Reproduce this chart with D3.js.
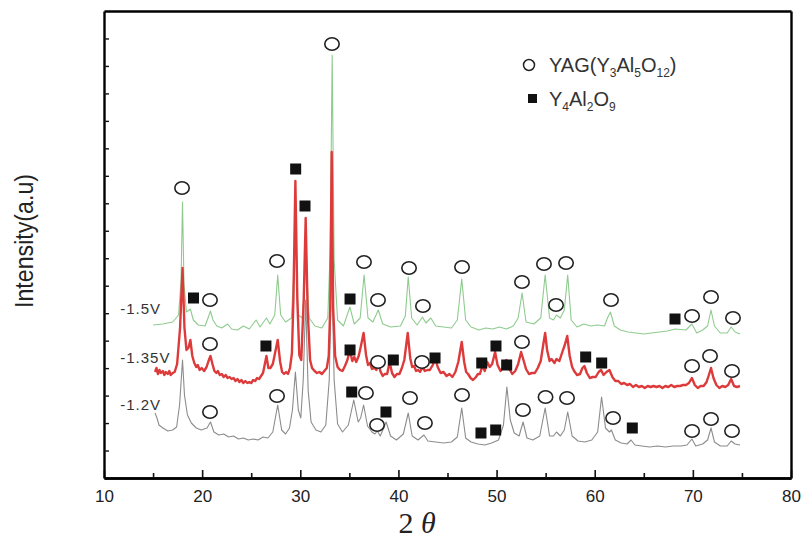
<!DOCTYPE html>
<html><head><meta charset="utf-8">
<script src="https://cdn.jsdelivr.net/npm/d3@7"></script>
<style>body{margin:0;background:#fff}svg{display:block}</style>
</head><body>
<svg id="c" width="805" height="538"></svg>
<script>
// ---- data (2θ, intensity a.u.) ----
const green15 = [[15.0,153],[16.0,154],[17.0,156],[17.6,163],[17.85,198],[18.0,276],[18.15,193],[18.4,166],[18.8,169],[19.1,158],[19.6,153],[20.3,152],[20.6,160],[20.85,167],[21.1,158],[21.5,152],[22.0,150],[22.6,154],[23.0,149],[23.6,148],[24.2,152],[24.8,149],[25.5,158],[25.9,151],[26.55,160],[26.9,154],[27.4,163],[27.7,203],[28.0,163],[28.5,156],[29.1,160],[29.5,238],[29.8,163],[30.2,160],[30.6,216],[30.9,160],[31.5,152],[32.2,150],[32.8,160],[33.05,228],[33.25,423],[33.45,218],[33.8,158],[34.4,152],[35.05,171],[35.5,154],[36.1,160],[36.5,203],[36.9,160],[37.4,156],[37.95,168],[38.4,154],[39.2,151],[40.2,152],[40.7,162],[41.0,201],[41.35,160],[41.9,153],[42.45,161],[42.8,155],[43.3,160],[43.8,152],[44.6,151],[45.4,150],[46.0,158],[46.45,199],[46.85,158],[47.4,151],[48.2,148],[48.9,150],[49.6,149],[50.3,151],[51.0,149],[51.7,152],[52.2,160],[52.6,185],[53.0,156],[53.8,154],[54.5,160],[54.95,203],[55.4,160],[55.8,158],[56.1,163],[56.5,160],[56.9,168],[57.25,203],[57.6,158],[58.2,151],[58.9,154],[59.6,152],[60.3,153],[61.0,152],[61.3,160],[61.6,166],[62.0,152],[62.6,148],[63.4,146],[64.2,145],[65.0,144],[65.8,145],[66.6,146],[67.4,147],[68.2,149],[69.3,148],[69.9,154],[70.4,145],[71.0,148],[71.5,152],[71.85,168],[72.2,152],[72.8,145],[73.5,145],[73.9,151],[74.3,146],[74.8,144]];
const red135 = [[15.2,106],[15.35,110],[15.5,104],[15.65,108],[15.8,105],[16.0,107],[16.15,103],[16.3,106],[16.5,104],[16.65,107],[16.8,103],[17.0,105],[17.2,106],[17.45,114],[17.75,150],[18.0,210],[18.2,150],[18.4,128],[18.6,130],[18.8,138],[19.0,122],[19.2,115],[19.4,111],[19.55,113],[19.75,108],[19.95,110],[20.2,107],[20.45,111],[20.65,117],[20.85,122],[21.05,114],[21.25,107],[21.45,105],[21.6,107],[21.8,103],[22.0,104],[22.2,101],[22.4,103],[22.6,100],[22.8,101],[23.0,99],[23.2,100],[23.4,97],[23.6,99],[23.8,96],[24.0,98],[24.2,95],[24.4,97],[24.6,95],[24.8,96],[25.0,95],[25.2,98],[25.4,97],[25.6,100],[25.8,99],[26.0,102],[26.2,105],[26.35,112],[26.55,122],[26.75,110],[26.95,110],[27.2,114],[27.45,126],[27.7,138],[27.95,116],[28.15,106],[28.35,104],[28.55,106],[28.75,104],[28.95,110],[29.15,125],[29.3,178],[29.5,297],[29.7,178],[29.9,123],[30.1,118],[30.35,178],[30.55,260],[30.75,168],[31.0,118],[31.2,110],[31.45,107],[31.7,105],[31.95,106],[32.2,104],[32.45,107],[32.7,110],[32.9,122],[33.05,170],[33.2,326],[33.35,170],[33.55,122],[33.8,111],[34.05,108],[34.3,107],[34.55,112],[34.8,118],[35.05,128],[35.3,117],[35.5,121],[35.7,116],[35.95,122],[36.2,133],[36.45,145],[36.7,123],[36.9,113],[37.1,115],[37.3,109],[37.55,110],[37.75,108],[37.95,117],[38.15,107],[38.4,102],[38.6,104],[38.85,104],[39.1,116],[39.35,105],[39.6,101],[39.85,104],[40.1,104],[40.35,110],[40.6,118],[40.95,145],[41.2,120],[41.4,111],[41.6,112],[41.8,107],[42.0,108],[42.2,106],[42.45,111],[42.7,107],[42.95,108],[43.2,108],[43.5,113],[43.75,120],[44.0,111],[44.3,105],[44.6,106],[44.9,102],[45.2,104],[45.5,101],[45.8,106],[46.1,116],[46.45,136],[46.7,116],[46.9,106],[47.1,104],[47.35,100],[47.6,98],[47.9,101],[48.1,104],[48.3,104],[48.55,112],[48.8,107],[49.05,116],[49.3,111],[49.55,114],[49.85,126],[50.1,113],[50.4,107],[50.7,111],[51.0,118],[51.3,109],[51.6,104],[51.9,107],[52.2,114],[52.5,126],[52.8,116],[53.0,109],[53.3,104],[53.6,105],[53.9,105],[54.2,110],[54.5,117],[54.75,133],[54.95,145],[55.15,128],[55.4,117],[55.6,119],[55.9,115],[56.1,119],[56.4,117],[56.7,126],[56.95,133],[57.2,142],[57.45,122],[57.7,111],[57.9,107],[58.2,103],[58.5,104],[58.75,110],[58.95,112],[59.2,105],[59.5,100],[59.8,101],[60.1,101],[60.4,106],[60.65,108],[60.9,103],[61.2,106],[61.5,108],[61.8,101],[62.1,97],[62.4,97],[62.7,94],[63.0,95],[63.3,93],[63.6,94],[63.9,91],[64.2,93],[64.5,91],[64.8,92],[65.1,90],[65.4,92],[65.7,91],[66.0,92],[66.3,91],[66.6,92],[66.9,90],[67.2,92],[67.5,91],[67.8,93],[68.1,91],[68.4,92],[68.7,92],[69.0,93],[69.3,93],[69.6,95],[69.9,100],[70.2,93],[70.5,90],[70.8,92],[71.1,92],[71.4,96],[71.6,102],[71.85,110],[72.1,100],[72.4,93],[72.7,90],[73.0,92],[73.3,91],[73.6,93],[73.9,99],[74.2,92],[74.5,91],[74.8,92]];
const gray12 = [[15.2,65],[15.4,60],[15.6,53],[16.0,50],[16.5,47],[17.0,48],[17.4,51],[17.7,73],[18.0,118],[18.2,83],[18.5,63],[18.9,55],[19.4,50],[19.9,48],[20.5,50],[20.85,56],[21.2,46],[21.7,43],[22.2,44],[22.7,41],[23.2,42],[23.7,39],[24.2,40],[24.7,38],[25.2,39],[25.7,38],[26.2,41],[26.7,40],[27.2,46],[27.7,73],[28.1,48],[28.5,44],[28.9,50],[29.2,68],[29.5,106],[29.8,68],[30.05,60],[30.3,98],[30.55,178],[30.8,88],[31.1,56],[31.6,48],[32.1,46],[32.6,53],[32.95,98],[33.2,213],[33.45,98],[33.8,54],[34.3,46],[34.9,53],[35.45,78],[35.9,56],[36.15,60],[36.45,73],[36.85,52],[37.3,46],[37.6,44],[37.85,47],[38.15,42],[38.75,56],[39.2,42],[39.8,38],[40.5,44],[41.0,65],[41.4,42],[42.0,38],[42.6,43],[43.0,37],[43.8,36],[44.6,35],[45.4,36],[46.0,41],[46.45,70],[46.85,40],[47.4,36],[48.1,34],[48.8,33],[49.5,35],[50.2,38],[50.7,53],[51.05,91],[51.4,58],[51.8,45],[52.3,42],[52.7,56],[53.1,40],[53.7,38],[54.4,42],[54.95,70],[55.4,42],[55.8,42],[56.1,46],[56.5,42],[56.9,48],[57.25,66],[57.7,42],[58.3,37],[59.0,36],[59.7,38],[60.3,46],[60.7,81],[61.1,50],[61.5,46],[61.7,48],[62.1,38],[62.7,35],[63.3,34],[63.7,38],[64.1,33],[64.8,32],[65.6,31],[66.4,32],[67.2,31],[68.0,32],[68.8,32],[69.4,33],[69.9,39],[70.3,32],[71.0,34],[71.5,38],[71.85,50],[72.2,36],[72.8,32],[73.5,32],[73.9,37],[74.3,34],[74.8,33]];

const yagMarks = [[17.95,290],[27.63,217],[33.23,434],[20.8,178],[36.49,216],[37.92,178],[41.08,210],[42.5,172],[46.48,211],[52.59,196],[54.83,214],[56.06,173],[57.08,215],[61.66,178],[69.92,162],[71.85,181],[74.09,160],
  [20.8,134],[37.92,116],[42.4,116],[52.59,136],[69.92,112],[71.75,122],[73.99,107],
  [20.8,66],[27.63,82],[36.69,85],[37.82,53],[41.18,80],[42.7,55],[46.48,83],[52.69,68],[54.99,81],[57.18,80],[61.87,60],[69.92,47],[71.85,59],[73.99,47]];
const y4Marks = [[19.12,180],[35.07,179],[68.18,159],[29.53,309],[30.48,272],
  [26.5,132],[35.07,128],[39.48,118],[43.73,120],[48.49,115],[49.94,132],[51.03,113],[59.08,121],[60.71,115],
  [35.24,86],[38.73,66],[48.41,45],[49.91,48],[63.83,50]];

const seriesNames = ["-1.5V","-1.35V","-1.2V"];
const seriesColors = ["#8fcb8f","#dd3b3b","#8c8c8c"];
const seriesLabelY = [169,120,73];
const xMajor = [10,20,30,40,50,60,70,80];
const xMinor = [15,25,35,45,55,65,75];
const yTickCount = 17;
const xDomain = [10,80], yDomain = [0,467];

// ---- layout ----
const L=104, R=791, T=11, B=478;
const svg = d3.select("#c");
const x = d3.scaleLinear().domain(xDomain).range([L,R]);
const y = d3.scaleLinear().domain(yDomain).range([B,T]);

// traces
const line = d3.line().x(d=>x(d[0])).y(d=>y(d[1]));
const data = [green15, red135, gray12];
const widths = [1.1, 2.4, 1.1];
[2,0,1].forEach(i=>{
  svg.append("path").datum(data[i]).attr("d",line)
    .attr("fill","none").attr("stroke",seriesColors[i])
    .attr("stroke-width", widths[i]).attr("stroke-linejoin","round");
});

// markers
svg.append("g").selectAll("ellipse").data(yagMarks).join("ellipse")
  .attr("cx",d=>x(d[0])).attr("cy",d=>y(d[1])).attr("rx",7.2).attr("ry",6.2)
  .attr("fill","#fff").attr("stroke","#222").attr("stroke-width",1.6);
svg.append("g").selectAll("rect").data(y4Marks).join("rect")
  .attr("x",d=>x(d[0])-5.5).attr("y",d=>y(d[1])-5.5).attr("width",11).attr("height",11)
  .attr("fill","#111");

// series labels
svg.append("g").selectAll("text").data(seriesNames).join("text")
  .attr("x",x(11.65)).attr("y",(d,i)=>y(seriesLabelY[i])).attr("dy","0.35em")
  .attr("font-family","Liberation Sans, Arial, sans-serif").attr("font-size",15)
  .attr("letter-spacing",1).attr("fill","#333").text(d=>d);

// axes: bottom / top / left / right via d3 axis generators (domain lines form the frame)
const xAxis = svg.append("g").attr("transform",`translate(0,${B})`)
  .call(d3.axisBottom(x).tickValues(xMajor).tickSizeInner(-8).tickSizeOuter(0).tickPadding(12).tickFormat(d3.format("d")));
xAxis.selectAll("line").attr("stroke","#111").attr("stroke-width",1.6);
xAxis.selectAll("text").attr("font-family","Liberation Sans, Arial, sans-serif").attr("font-size",17).attr("fill","#222");
const xMin = svg.append("g").attr("transform",`translate(0,${B})`)
  .call(d3.axisBottom(x).tickValues(xMinor).tickSizeInner(-5).tickSizeOuter(0).tickFormat(""));
xMin.selectAll("line").attr("stroke","#111").attr("stroke-width",1.6);
const xTop = svg.append("g").attr("transform",`translate(0,${T})`)
  .call(d3.axisTop(x).tickValues([]).tickSizeOuter(0));
const yAxis = svg.append("g").attr("transform",`translate(${L},0)`)
  .call(d3.axisLeft(y).tickValues(d3.range(1,yTickCount).map(i=>i*yDomain[1]/yTickCount)).tickSizeInner(-5).tickSizeOuter(0).tickFormat(""));
yAxis.selectAll("line").attr("stroke","#111").attr("stroke-width",1.4);
const yRight = svg.append("g").attr("transform",`translate(${R},0)`)
  .call(d3.axisRight(y).tickValues([]).tickSizeOuter(0));
[xAxis,xMin,xTop,yAxis,yRight].forEach(g=>g.select(".domain")
  .attr("stroke","#000000").attr("stroke-width",2.4).attr("stroke-opacity",1).style("display","inline"));

// axis titles
svg.append("text").attr("transform",`translate(33,241) rotate(-90)`)
  .attr("text-anchor","middle").attr("font-family","Liberation Sans, Arial, sans-serif")
  .attr("font-size",26).attr("textLength",134).attr("lengthAdjust","spacingAndGlyphs")
  .attr("fill","#222").text("Intensity(a.u)");
const xt = svg.append("text").attr("x",x(41.9)).attr("y",533).attr("text-anchor","middle")
  .attr("font-family","Liberation Serif, Times New Roman, serif").attr("font-size",30).attr("fill","#222");
xt.append("tspan").text("2 ");
xt.append("tspan").attr("font-style","italic").text("θ");

// legend
const lg = svg.append("g").attr("font-family","Liberation Sans, Arial, sans-serif").attr("fill","#333");
lg.append("circle").attr("cx",529).attr("cy",65).attr("r",5.5).attr("fill","none").attr("stroke","#222").attr("stroke-width",1.5);
lg.append("rect").attr("x",528).attr("y",94).attr("width",9).attr("height",9).attr("fill","#111");
function chem(parts, yy){
  const tx = lg.append("text").attr("x",549).attr("y",yy).attr("font-size",20).attr("fill","#333");
  parts.forEach(p=>{
    if(p[1]) tx.append("tspan").attr("font-size",12).attr("dy",5).text(p[0]);
    else tx.append("tspan").attr("dy",p[2]||0).text(p[0]);
  });
}
chem([["YAG(Y",0],["3",1],["Al",0,-5],["5",1],["O",0,-5],["12",1],[")",0,-5]],72);
chem([["Y",0],["4",1],["Al",0,-5],["2",1],["O",0,-5],["9",1]],106);
</script>
</body></html>
